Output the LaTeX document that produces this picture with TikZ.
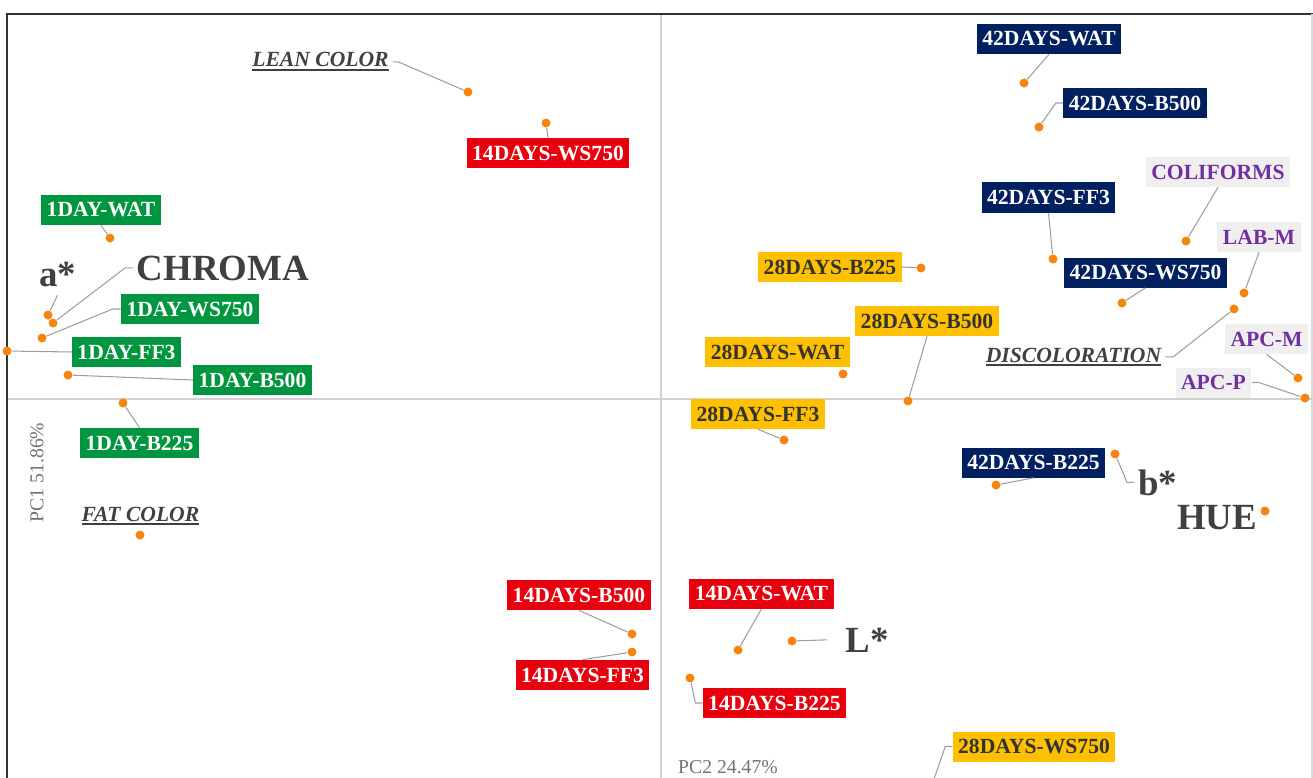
\documentclass[tikz,border=0pt]{standalone}
\usepackage{fontspec}
\setmainfont{Liberation Serif}
\usepackage{tikz}
\definecolor{DotOrange}{HTML}{F5850F}
\definecolor{DayOne}{HTML}{00953F}
\definecolor{DayFourteen}{HTML}{E8000E}
\definecolor{DayTwentyEight}{HTML}{FFC000}
\definecolor{DayFortyTwo}{HTML}{00205F}
\definecolor{MicroPurple}{HTML}{7030A0}
\definecolor{MicroBack}{HTML}{EFEFEF}
\definecolor{InkGray}{HTML}{404040}
\newcommand{\ulvar}[1]{\setbox0=\hbox{#1}\rlap{\rule[-2.4pt]{\wd0}{1.2pt}}\box0}

\begin{document}
\begin{tikzpicture}[
        lbl/.style={inner xsep=0.11cm, inner ysep=0pt, minimum height=0.6cm, font=\fontsize{12.3}{14}\selectfont\bfseries},
        d1/.style={lbl, fill=DayOne, text=white},
        d14/.style={lbl, fill=DayFourteen, text=white},
        d28/.style={lbl, fill=DayTwentyEight, text=black!80},
        d42/.style={lbl, fill=DayFortyTwo, text=white},
        micro/.style={lbl, fill=MicroBack, text=MicroPurple},
        score/.style={circle, fill=DotOrange, inner sep=0pt, minimum size=0.18cm},
        big/.style={anchor=base, inner sep=2pt, text=InkGray, font=\fontsize{21}{24}\selectfont\bfseries},
        varname/.style={anchor=base, inner sep=2pt, text=InkGray, font=\fontsize{12.3}{14}\selectfont\bfseries\itshape},
        pcaxis/.style={draw=black!18, line width=0.85pt},
        pcname/.style={text=black!55, inner sep=1pt, font=\fontsize{11.2}{13}\selectfont},
        lnk/.style={draw=black!38, line width=0.6pt}]
        \useasboundingbox (0,0) rectangle (26.26,-15.56);
        \clip (0,0) rectangle (26.26,-15.56);
        % frame and axes
        \draw[draw=black!80, line width=1.1pt] (0.14,-15.6) -- (0.14,-0.28) -- (26.26,-0.28);
        \draw[draw=black!15, line width=0.6pt] (26.24,-0.28) -- (26.24,-15.6);
        \draw[pcaxis] (13.22,-0.3) -- (13.22,-15.6);
        \draw[pcaxis] (0.16,-7.98) -- (26.24,-7.98);
        \node[pcname, rotate=90] (pc1) at (0.74,-9.45) {PC1 51.86\%};
        \node[pcname, anchor=base] (pc2) at (14.56,-15.46) {PC2 24.47\%};
        % day 1
        \node[d1] (d1wat) at (2.02,-4.20) {1DAY-WAT};
        \node[d1] (d1ws750) at (3.80,-6.18) {1DAY-WS750};
        \node[d1] (d1ff3) at (2.53,-7.04) {1DAY-FF3};
        \node[d1] (d1b500) at (5.05,-7.60) {1DAY-B500};
        \node[d1] (d1b225) at (2.79,-8.86) {1DAY-B225};
        \node[score] (sd1wat) at (2.20,-4.76) {};
        \node[score] (sd1ws750) at (0.84,-6.76) {};
        \node[score] (sd1ff3) at (0.14,-7.02) {};
        \node[score] (sd1b500) at (1.36,-7.50) {};
        \node[score] (sd1b225) at (2.46,-8.06) {};
        % day 14
        \node[d14] (d14ws750) at (10.96,-3.06) {14DAYS-WS750};
        \node[d14] (d14b500) at (11.58,-11.90) {14DAYS-B500};
        \node[d14] (d14ff3) at (11.65,-13.50) {14DAYS-FF3};
        \node[d14] (d14wat) at (15.23,-11.87) {14DAYS-WAT};
        \node[d14] (d14b225) at (15.49,-14.06) {14DAYS-B225};
        \node[score] (sd14ws750) at (10.92,-2.46) {};
        \node[score] (sd14b500) at (12.64,-12.68) {};
        \node[score] (sd14ff3) at (12.64,-13.04) {};
        \node[score] (sd14wat) at (14.76,-13.00) {};
        \node[score] (sd14b225) at (13.80,-13.56) {};
        % day 28
        \node[d28] (d28b225) at (16.60,-5.34) {28DAYS-B225};
        \node[d28] (d28b500) at (18.54,-6.42) {28DAYS-B500};
        \node[d28] (d28wat) at (15.55,-7.04) {28DAYS-WAT};
        \node[d28] (d28ff3) at (15.16,-8.28) {28DAYS-FF3};
        \node[d28] (d28ws750) at (20.68,-14.93) {28DAYS-WS750};
        \node[score] (sd28b225) at (18.42,-5.36) {};
        \node[score] (sd28b500) at (18.16,-8.02) {};
        \node[score] (sd28wat) at (16.86,-7.48) {};
        \node[score] (sd28ff3) at (15.68,-8.80) {};
        \coordinate (sd28ws750) at (18.50,-16.10);
        % day 42
        \node[d42] (d42wat) at (20.98,-0.78) {42DAYS-WAT};
        \node[d42] (d42b500) at (22.70,-2.06) {42DAYS-B500};
        \node[d42] (d42ff3) at (20.97,-3.95) {42DAYS-FF3};
        \node[d42] (d42ws750) at (22.91,-5.45) {42DAYS-WS750};
        \node[d42] (d42b225) at (20.67,-9.25) {42DAYS-B225};
        \node[score] (sd42wat) at (20.48,-1.66) {};
        \node[score] (sd42b500) at (20.78,-2.54) {};
        \node[score] (sd42ff3) at (21.06,-5.18) {};
        \node[score] (sd42ws750) at (22.44,-6.06) {};
        \node[score] (sd42b225) at (19.92,-9.70) {};
        % microbiology
        \node[micro] (colif) at (24.36,-3.44) {COLIFORMS};
        \node[micro] (labm) at (25.18,-4.74) {LAB-M};
        \node[micro] (apcm) at (25.33,-6.78) {APC-M};
        \node[micro] (apcp) at (24.27,-7.65) {APC-P};
        \node[score] (scolif) at (23.72,-4.82) {};
        \node[score] (slabm) at (24.88,-5.86) {};
        \node[score] (sapcm) at (25.96,-7.56) {};
        \node[score] (sapcp) at (26.10,-7.96) {};
        % colour variables
        \node[big] (chroma) at (4.46,-5.60) {CHROMA};
        \node[big] (astar) at (1.15,-5.72) {a*};
        \node[big] (lstar) at (17.35,-13.04) {L*};
        \node[big] (bstar) at (23.15,-9.90) {b*};
        \node[big] (hue) at (24.34,-10.58) {HUE};
        \node[score] (schroma) at (1.06,-6.46) {};
        \node[score] (sastar) at (0.96,-6.30) {};
        \node[score] (slstar) at (15.84,-12.82) {};
        \node[score] (sbstar) at (22.30,-9.08) {};
        \node[score] (shue) at (25.30,-10.22) {};
        \node[varname] (lean) at (6.41,-1.34) {\ulvar{LEAN COLOR}};
        \node[varname] (disc) at (21.47,-7.24) {\ulvar{DISCOLORATION}};
        \node[varname] (fat) at (2.81,-10.42) {\ulvar{FAT COLOR}};
        \node[score] (slean) at (9.36,-1.84) {};
        \node[score] (sdisc) at (24.68,-6.18) {};
        \node[score] (sfat) at (2.80,-10.70) {};
        % leader lines
        \draw[lnk] (d1wat.south) -- (sd1wat);
        \draw[lnk] (sd1ws750) -- ([xshift=-0.16cm]d1ws750.west) -- (d1ws750.west);
        \draw[lnk] (sd1ff3) -- (d1ff3.west);
        \draw[lnk] (sd1b500) -- (d1b500.west);
        \draw[lnk] (d1b225.north) -- (sd1b225);
        \draw[lnk] (schroma) -- ([xshift=-0.16cm]chroma.west) -- (chroma.west);
        \draw[lnk] (sastar) -- ([yshift=-0.1cm]astar.south);
        \draw[lnk] (lean.east) -- ([xshift=0.12cm]lean.east) -- (slean);
        \draw[lnk] (d14ws750.north) -- (sd14ws750);
        \draw[lnk] (d14b500.south) -- (sd14b500);
        \draw[lnk] (d14ff3.north) -- (sd14ff3);
        \draw[lnk] (d14wat.south) -- (sd14wat);
        \draw[lnk] (sd14b225) -- ([xshift=-0.14cm]d14b225.west) -- (d14b225.west);
        \draw[lnk] (slstar) -- ([xshift=-0.3cm]lstar.west);
        \draw[lnk] (d28b225.east) -- (sd28b225);
        \draw[lnk] (d28b500.south) -- (sd28b500);
        \draw[lnk] (d28ff3.south) -- (sd28ff3);
        \draw[lnk] (d28ws750.west) -- ([xshift=-0.14cm]d28ws750.west) -- (sd28ws750);
        \draw[lnk] (d42wat.south) -- (sd42wat);
        \draw[lnk] (sd42b500) -- ([xshift=-0.14cm]d42b500.west) -- (d42b500.west);
        \draw[lnk] (d42ff3.south) -- (sd42ff3);
        \draw[lnk] (d42ws750.south) -- (sd42ws750);
        \draw[lnk] (d42b225.south) -- (sd42b225);
        \draw[lnk] (sbstar) -- ([xshift=-0.14cm]bstar.west) -- (bstar.west);
        \draw[lnk] (colif.south) -- (scolif);
        \draw[lnk] (labm.south) -- (slabm);
        \draw[lnk] (apcm.south) -- (sapcm);
        \draw[lnk] (apcp.east) -- ([xshift=0.14cm]apcp.east) -- (sapcp);
        \draw[lnk] (disc.east) -- ([xshift=0.16cm]disc.east) -- (sdisc);
    \end{tikzpicture}
\end{document}
